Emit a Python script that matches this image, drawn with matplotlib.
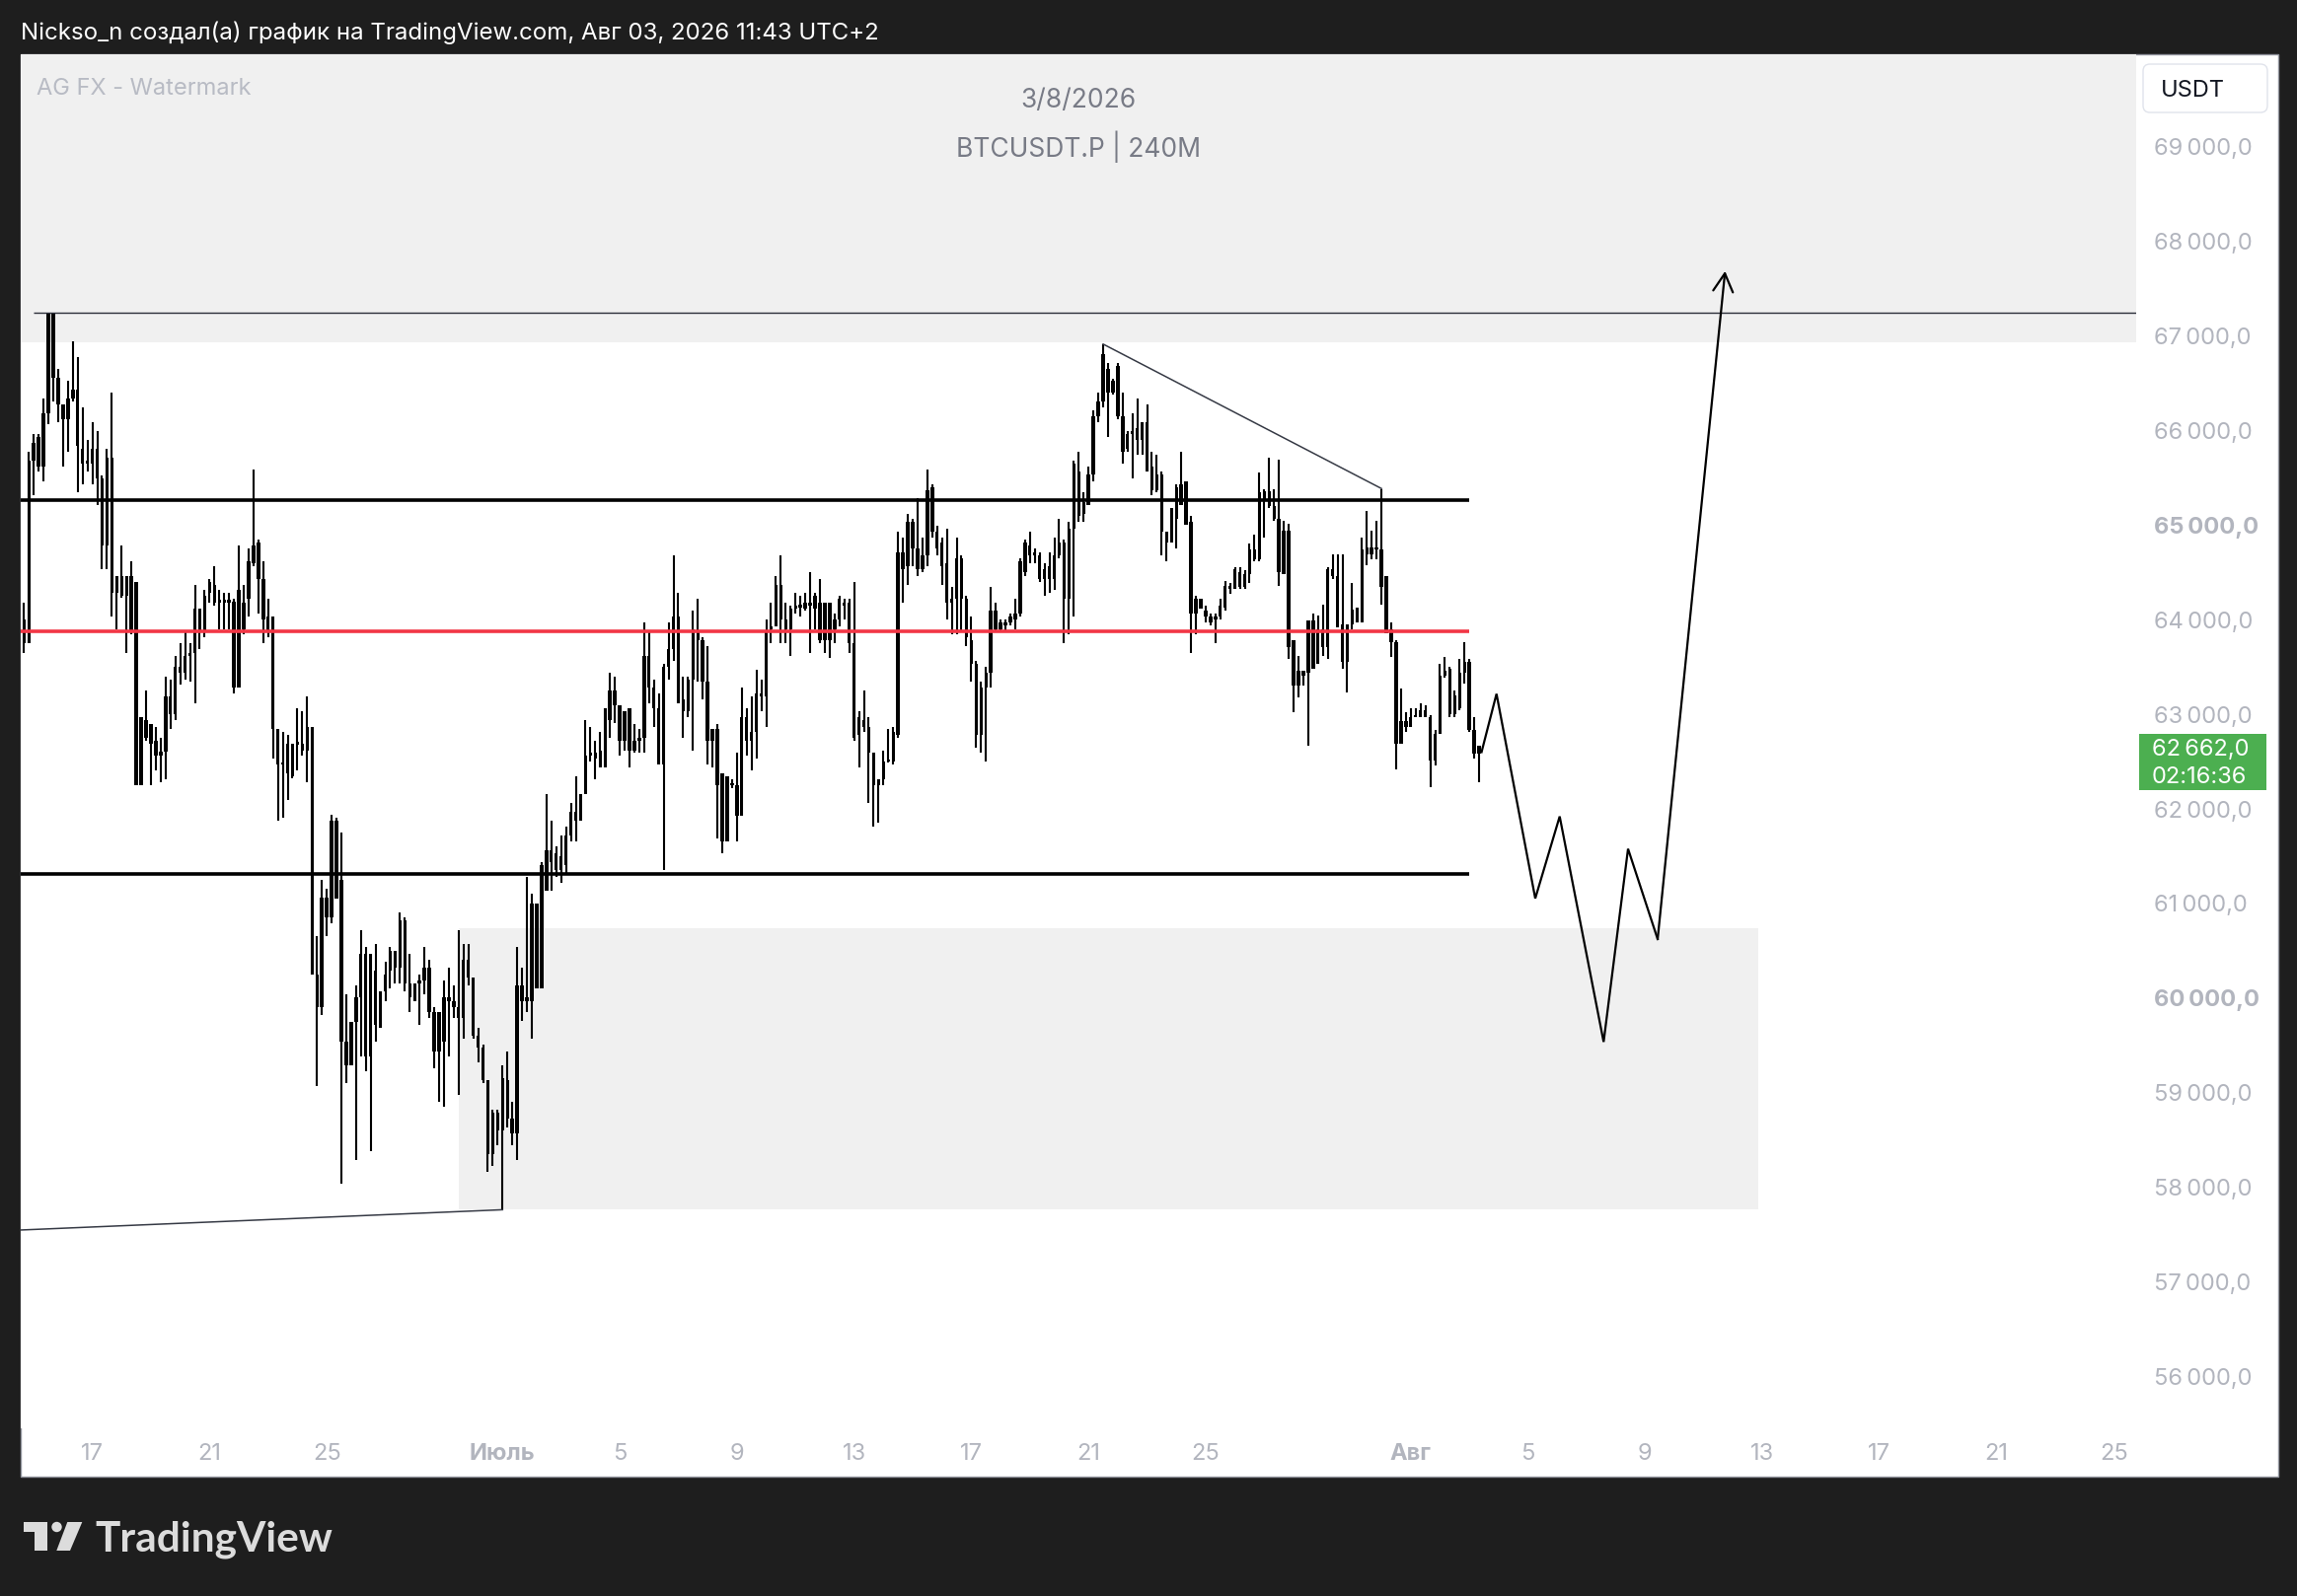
import numpy as np
import pandas as pd
import matplotlib
matplotlib.use('Agg')
import matplotlib.pyplot as plt
import matplotlib.dates as mdates
from matplotlib.patches import Rectangle, Polygon, Circle, FancyBboxPatch
from matplotlib.transforms import Affine2D, blended_transform_factory

plt.rcParams['font.family'] = ['Inter', 'DejaVu Sans']

# -----------------------------------------------------------------------------
# BTCUSDT.P 4h candles, 2026-06-14 14:00 .. 2026-08-03 10:00 (UTC+2)

first_bar = '2026-06-14 14:00'

o = [63940, 64000, 63750, 65680, 65620, 65620, 66180, 67240, 66550, 66270,
     66120, 66340, 66430, 65800, 65650, 65650, 65800, 65490, 64780, 65710,
     64280, 64460, 64250, 63870, 64400, 62250, 62940, 62690, 62720, 62560,
     62600, 63190, 63000, 63500, 63440, 63620, 63650, 64120, 63870, 64280,
     64370, 64180, 64190, 64180, 64190, 63280, 64180, 64220, 64590, 64810,
     64430, 64030, 64030, 62840, 62470, 62380, 62690, 62680, 62690, 62620,
     62870, 60250, 59910, 61060, 60850, 61880, 61250, 59540, 59290, 59750,
     60010, 60470, 59380, 60290, 59690, 60070, 60290, 60500, 60320, 60820,
     60160, 59970, 60160, 60190, 60320, 59850, 59440, 59540, 60010, 59970,
     59910, 59790, 60410, 60220, 59600, 59480, 59130, 58350, 58790, 58600,
     59130, 58730, 58570, 60130, 59970, 59970, 61000, 60100, 61130, 61560,
     61530, 61350, 61410, 61720, 61970, 61880, 62160, 62560, 62590, 62440,
     62440, 62940, 63250, 63090, 62720, 63060, 62620, 62720, 62750, 63620,
     63280, 63060, 62470, 63500, 63690, 64030, 63160, 63030, 63370, 63870,
     63780, 63340, 62720, 62840, 62380, 61660, 62250, 62250, 61930, 62970,
     62720, 62810, 63220, 63190, 63900, 63930, 64370, 64000, 63900, 64120,
     64130, 64120, 64180, 64120, 64180, 63780, 64180, 63900, 64000, 64180,
     64180, 63750, 62780, 62940, 62870, 62590, 62250, 62310, 62500, 62500,
     62780, 64710, 64560, 65030, 64750, 64530, 64680, 65400, 64930, 64810,
     64590, 64180, 64220, 64650, 64220, 63780, 63530, 62780, 63280, 63440,
     64090, 63900, 63970, 63970, 64000, 64060, 64500, 64780, 64680, 64680,
     64430, 64560, 64430, 64680, 64810, 64220, 64960, 65560, 65120, 65210,
     65530, 66150, 66300, 66650, 66400, 66680, 66150, 65800, 65960, 65900,
     66090, 66090, 65620, 65370, 65530, 64930, 64810, 65060, 65430, 65000,
     65030, 64060, 64220, 64090, 64030, 64000, 64030, 64130, 64360, 64320,
     64500, 64340, 64480, 64740, 64640, 65360, 65200, 65200, 65060, 64480,
     64940, 63780, 63300, 63460, 63440, 63990, 63530, 63900, 63710, 64530,
     64460, 63950, 63550, 63950, 64130, 63970, 64760, 64690, 64760, 64740,
     64460, 63900, 63760, 62690, 62930, 62860, 62970, 62970, 63040, 62970,
     62510, 62790, 63410, 63480, 63000, 63060, 63440, 63550, 62830, 62580]

h = [64500, 64180, 65770, 65960, 65960, 66340, 67240, 67240, 66650, 66270,
     66520, 66940, 66770, 66240, 65900, 66090, 65990, 65520, 65800, 66400,
     64460, 64780, 64460, 64620, 64400, 62970, 63250, 62900, 62870, 62750,
     63400, 63370, 63620, 63750, 63870, 63750, 64370, 64120, 64310, 64430,
     64560, 64310, 64280, 64280, 64220, 64780, 64370, 64750, 65590, 64840,
     64620, 64220, 64030, 62840, 62810, 62780, 62690, 63060, 63030, 63190,
     62870, 60660, 61250, 61160, 61940, 61910, 61750, 60040, 59750, 60130,
     60720, 60540, 60470, 60570, 60070, 60380, 60540, 60500, 60910, 60850,
     60470, 60160, 60250, 60540, 60410, 59910, 59850, 60190, 60320, 60130,
     60720, 60570, 60570, 60220, 59690, 59510, 59130, 58820, 58820, 59290,
     59440, 58910, 60540, 60320, 61280, 61100, 61000, 61440, 62160, 61880,
     61600, 61720, 61810, 62060, 62340, 62160, 62940, 62870, 62720, 62810,
     63060, 63440, 63400, 63090, 63030, 63060, 62900, 62840, 63970, 63870,
     63370, 63220, 63530, 63970, 64680, 64280, 63400, 63400, 64090, 64220,
     63810, 63720, 62840, 62900, 62380, 62340, 62310, 62590, 63280, 63060,
     63190, 63470, 63370, 64000, 64180, 64460, 64680, 64180, 64150, 64280,
     64250, 64280, 64500, 64280, 64430, 64180, 64180, 64060, 64250, 64220,
     64220, 64400, 63030, 63250, 62970, 62590, 62310, 62620, 62840, 62870,
     64930, 64870, 65120, 65060, 65280, 64870, 65590, 65430, 64990, 64870,
     64960, 64340, 64870, 64680, 64250, 64030, 63560, 63340, 63500, 64340,
     64180, 64000, 64000, 64060, 64220, 64650, 64840, 64930, 64750, 64710,
     64590, 64710, 64870, 65060, 64840, 65030, 65680, 65770, 65340, 65620,
     66210, 66400, 66910, 66710, 66540, 66710, 66400, 65990, 66180, 66340,
     66090, 66270, 65770, 65740, 65560, 64930, 65180, 65430, 65770, 65460,
     65090, 64250, 64220, 64150, 64060, 64060, 64220, 64410, 64390, 64550,
     64550, 64520, 64800, 64900, 65550, 65380, 65710, 65380, 65690, 65040,
     65010, 63780, 63620, 63460, 63990, 64060, 64040, 64160, 64550, 64690,
     64690, 64690, 63950, 64390, 64130, 64870, 65150, 64940, 65040, 65380,
     64460, 63970, 63780, 63270, 63020, 63060, 63060, 63110, 63090, 62990,
     62830, 63530, 63600, 63500, 63250, 63580, 63760, 63580, 62970, 62670]

l = [63690, 63650, 63750, 65310, 65560, 65460, 66060, 66300, 66090, 65620,
     65770, 66300, 65340, 65430, 65560, 65430, 65210, 64530, 64530, 64030,
     63900, 64230, 63650, 63840, 62250, 62250, 62720, 62250, 62410, 62280,
     62310, 62840, 62940, 63310, 63370, 63340, 63120, 63690, 63810, 64180,
     64150, 63900, 63900, 63900, 63220, 63280, 63840, 64030, 64560, 64060,
     63750, 63810, 62530, 61880, 61910, 62090, 62320, 62410, 62560, 62280,
     60250, 59070, 59820, 60660, 60790, 61050, 58040, 59100, 59290, 58290,
     59380, 59230, 58380, 59540, 59690, 59970, 60100, 60160, 60160, 60070,
     59850, 59970, 59720, 60040, 59790, 59260, 58910, 58850, 59380, 59790,
     58980, 59570, 60130, 59570, 59320, 59100, 58170, 58230, 58450, 57770,
     58630, 58450, 58290, 59760, 59850, 59570, 60100, 60100, 61130, 61130,
     61280, 61220, 61320, 61660, 61660, 61880, 62160, 62500, 62310, 62440,
     62440, 62750, 62910, 62560, 62620, 62440, 62590, 62590, 62590, 63120,
     62870, 62470, 61350, 63370, 63560, 63120, 62750, 62970, 62620, 63340,
     63160, 62470, 62440, 61690, 61530, 61660, 62220, 61660, 61930, 62560,
     62410, 62530, 63030, 62870, 63750, 63930, 63750, 63750, 63620, 64060,
     64030, 64090, 63650, 63900, 63750, 63650, 63590, 63750, 63930, 64000,
     63650, 62720, 62440, 62810, 62060, 61810, 61850, 62250, 62490, 62470,
     62750, 64180, 64370, 64560, 64460, 64500, 64560, 64870, 64680, 64370,
     64000, 63840, 63840, 63870, 63720, 63340, 62650, 62590, 62500, 63280,
     63870, 63870, 63870, 63940, 63900, 64030, 64460, 64590, 64590, 64400,
     64250, 64280, 64310, 64650, 63750, 63840, 64030, 65030, 65030, 65210,
     65460, 66090, 66240, 65930, 66380, 66120, 65650, 65770, 65490, 65740,
     65740, 65560, 65310, 65340, 64680, 64620, 64810, 64750, 65210, 65000,
     63650, 63840, 64120, 63970, 63940, 63750, 64000, 64090, 64270, 64320,
     64320, 64320, 64390, 64620, 64620, 64870, 65180, 65040, 64360, 64480,
     63580, 63020, 63180, 63300, 62670, 63480, 63530, 63620, 63580, 64430,
     63920, 63480, 63230, 63900, 63970, 63970, 64570, 64640, 64640, 64160,
     63850, 63600, 62420, 62690, 62810, 62860, 62970, 62970, 62970, 62230,
     62460, 62790, 63390, 62970, 62970, 63040, 63320, 62810, 62530, 62280]

c = [64180, 63750, 65680, 65870, 65930, 66180, 67240, 66550, 66270, 66120,
     66340, 66430, 65840, 65650, 65660, 65800, 65490, 64780, 65710, 64280,
     64460, 64250, 64460, 64460, 62250, 62970, 62750, 62900, 62560, 62600,
     63190, 63000, 63500, 63440, 63620, 63650, 64120, 63870, 64250, 64400,
     64180, 64190, 64180, 64190, 63280, 64310, 63900, 64620, 64780, 64430,
     64000, 63870, 62840, 62470, 62480, 62690, 62340, 62690, 62620, 62870,
     60250, 59910, 61060, 60850, 61880, 61050, 59540, 59290, 59750, 60010,
     60470, 59380, 60470, 59720, 60070, 60250, 60500, 60320, 60820, 60160,
     60010, 60160, 60190, 60320, 59850, 59440, 59850, 60010, 59970, 59910,
     59790, 60410, 60220, 59600, 59480, 59130, 58350, 58790, 58600, 59160,
     58730, 58570, 60130, 59970, 60010, 61000, 60100, 61410, 61560, 61440,
     61350, 61500, 61720, 61970, 61880, 62160, 62560, 62590, 62530, 62620,
     63060, 63250, 63090, 62720, 63030, 62620, 62720, 62750, 63620, 63280,
     63060, 62470, 63500, 63690, 64030, 63120, 63030, 63370, 63900, 63780,
     63340, 62720, 62840, 62250, 61660, 62340, 62270, 61930, 62970, 62720,
     62810, 63220, 63190, 63870, 63930, 64370, 64000, 63900, 64120, 64130,
     64150, 64180, 64150, 64250, 63780, 64180, 63780, 64000, 64220, 64150,
     63750, 62750, 62970, 62870, 62590, 62250, 62310, 62500, 62510, 62810,
     64710, 64530, 65030, 64750, 64530, 64680, 65370, 64930, 64750, 64560,
     64180, 64220, 64650, 64220, 63810, 63530, 62780, 63280, 63440, 64090,
     63900, 63970, 63940, 64030, 64060, 64620, 64810, 64680, 64690, 64430,
     64530, 64430, 64680, 64810, 64220, 64960, 65650, 65090, 65240, 65530,
     66150, 66300, 66800, 66400, 66520, 66150, 65770, 65960, 65990, 66020,
     65900, 65560, 65370, 65530, 64930, 64810, 65180, 65400, 65210, 65460,
     64060, 64220, 64120, 64030, 63970, 64030, 64150, 64360, 64320, 64530,
     64340, 64480, 64740, 64640, 65340, 65250, 65360, 65060, 64500, 64940,
     63710, 63300, 63460, 63410, 63990, 63480, 63900, 63710, 64530, 64460,
     63920, 63550, 63950, 64110, 63970, 64740, 64690, 64760, 64740, 64340,
     63850, 63760, 62690, 62930, 62860, 62970, 62990, 63040, 62970, 62510,
     62790, 63410, 63460, 63000, 63200, 63440, 63550, 62830, 62580, 62662]

# drawings
level_thin = 67240
level_top = 65265
level_mid = 63877
level_bot = 61315
level_thin_start = '2026-06-15 02:00'
levels_end = '2026-08-03 02:00'

zone_top = [66926, 70500]
zone_low_t = ['2026-06-29 14:00', '2026-08-12 23:00']
zone_low_p = [57765, 60735]

trend_t = ['2026-07-21 14:00', '2026-07-31 02:00']
trend_p = [66910, 65384]

base_t = ['2026-06-14 14:00', '2026-07-01 02:00']
base_p = [57550, 57765]

proj_t = ['2026-08-03 12:00', '2026-08-04 00:15', '2026-08-05 08:00',
          '2026-08-06 04:00', '2026-08-07 16:00', '2026-08-08 12:00',
          '2026-08-09 12:15', '2026-08-11 19:30']
proj_p = [62600, 63215, 61054, 61920, 59538, 61578, 60624, 67681]

tick_days = ['2026-06-17', '2026-06-21', '2026-06-25', '2026-07-01', '2026-07-05',
             '2026-07-09', '2026-07-13', '2026-07-17', '2026-07-21', '2026-07-25',
             '2026-08-01', '2026-08-05', '2026-08-09', '2026-08-13', '2026-08-17',
             '2026-08-21', '2026-08-25']
tick_labels = ['17', '21', '25', 'Июль', '5', '9', '13', '17', '21', '25',
               'Авг', '5', '9', '13', '17', '21', '25']
price_ticks = list(range(56000, 70000, 1000))

last_price = 62662
countdown = '02:16:36'

# -----------------------------------------------------------------------------

W, H = 2328, 1618
BG = '#1e1e1e'
GREY_TXT = '#b2b5be'


def dnum(s):
    return mdates.date2num(pd.to_datetime(s).to_pydatetime())


def dnums(lst):
    return np.array([dnum(s) for s in lst])


fig = plt.figure(figsize=(W / 100, H / 100), dpi=100, facecolor=BG)
px = Affine2D().scale(1 / W, -1 / H).translate(0, 1) + fig.transFigure

# white pane with border
fig.patches.append(Rectangle((20.8, 55), 2287.9, 1441.6, transform=px,
                             facecolor='white', edgecolor='#8f929b', lw=1.0,
                             zorder=-10))

ax = fig.add_axes([20.8 / W, 1 - 1447.6 / H, 2143.9 / W, 1392.6 / H])
ax.set_facecolor('white')
for s in ax.spines.values():
    s.set_visible(False)

times = pd.date_range(first_bar, periods=len(c), freq='4h')
x = mdates.date2num(times.to_pydatetime())
o_a, h_a, l_a, c_a = map(np.array, (o, h, l, c))

x_left = dnum('2026-06-14 15:10')
x_right = dnum('2026-08-25 20:00')

# zones
ax.add_patch(Rectangle((x_left - 5, zone_top[0]), x_right - x_left + 10,
                       zone_top[1] - zone_top[0], facecolor='#f0f0f0',
                       edgecolor='none', zorder=0))
zx = dnums(zone_low_t)
ax.add_patch(Rectangle((zx[0], zone_low_p[0]), zx[1] - zx[0],
                       zone_low_p[1] - zone_low_p[0], facecolor='#f0f0f0',
                       edgecolor='none', zorder=0))

# candles
ax.vlines(x, l_a, h_a, colors='black', lw=1.5, zorder=2)
ax.bar(x, np.maximum(np.abs(c_a - o_a), 25), bottom=np.minimum(o_a, c_a),
       width=0.115, color='black', linewidth=0, zorder=2)

# levels
end = dnum(levels_end)
ax.hlines(level_thin, dnum(level_thin_start), x_right + 5, colors='#2a2e39',
          lw=1.0, zorder=3)
ax.hlines([level_top, level_bot], x_left - 5, end, colors='black', lw=2.6,
          zorder=3)
ax.hlines(level_mid, x_left - 5, end, colors='#f23645', lw=2.6, zorder=3)

# trend lines
ax.plot(dnums(trend_t), trend_p, color='#363a45', lw=1.1, zorder=3)
ax.plot(dnums(base_t), base_p, color='#363a45', lw=1.1, zorder=3)

# projected path
pxs = dnums(proj_t)
ax.plot(pxs[:-1], proj_p[:-1], color='black', lw=1.6, zorder=3,
        solid_joinstyle='miter')
ax.annotate('', xy=(pxs[-1], proj_p[-1]), xytext=(pxs[-2], proj_p[-2]),
            arrowprops=dict(arrowstyle='->,head_length=0.55,head_width=0.3',
                            lw=1.6, color='black', mutation_scale=24,
                            shrinkA=0, shrinkB=0), zorder=3)

ax.set_xlim(x_left, x_right)
ax.set_ylim(55460, 69972)

# axes ticks
ax.set_xticks(dnums(tick_days) + 2 / 24)
ax.set_xticklabels(tick_labels)
ax.tick_params(axis='x', length=0, pad=11, labelsize=17, labelcolor=GREY_TXT)
for t in ax.get_xticklabels():
    if t.get_text() in ('Июль', 'Авг'):
        t.set_fontweight('bold')

ax.yaxis.tick_right()
ax.set_yticks(price_ticks)
ax.set_yticklabels([f'{p // 1000}\u2009000,0' for p in price_ticks])
ax.tick_params(axis='y', length=0, pad=13, labelsize=17, labelcolor=GREY_TXT)
for t, p in zip(ax.get_yticklabels(), price_ticks):
    t.set_verticalalignment('center_baseline')
    if p % 5000 == 0:
        t.set_fontweight('bold')

# last price label
lab = blended_transform_factory(px, ax.transData)
ax.add_patch(Rectangle((2167.6, last_price - 467), 129.2, 595, transform=lab,
                       facecolor='#4caf50', edgecolor='none', clip_on=False,
                       zorder=5))
ax.text(2181, last_price - 10, f'{last_price // 1000}\u2009{last_price % 1000:03d},0',
        transform=lab, color='white', fontsize=17, va='center_baseline',
        ha='left', zorder=6, clip_on=False)
ax.text(2181, last_price - 300, countdown, transform=lab, color='white',
        fontsize=17, va='center_baseline', ha='left', zorder=6, clip_on=False)

# currency box
fig.patches.append(FancyBboxPatch((2172, 65), 126, 49, transform=px,
                                  boxstyle='round,pad=0,rounding_size=7',
                                  facecolor='white', edgecolor='#e0e3eb',
                                  lw=1.0, zorder=4))
fig.text(2190 / W, 1 - 89 / H, 'USDT', color='#131722', fontsize=17,
         va='center_baseline', ha='left', zorder=6)

# header, watermark, title
fig.text(20.8 / W, 1 - 31 / H,
         'Nickso_n создал(а) график на TradingView.com, Авг 03, 2026 11:43 UTC+2',
         color='white', fontsize=17.3, va='center_baseline', ha='left')
fig.text(37 / W, 1 - 87 / H, 'AG FX - Watermark', color='#b8bbc4',
         fontsize=17, va='center_baseline', ha='left', zorder=6)
fig.text(1093 / W, 1 - 99 / H, '3/8/2026', color='#787b86', fontsize=19,
         va='center_baseline', ha='center', zorder=6)
fig.text(1093 / W, 1 - 146 / H, 'BTCUSDT.P | 240M', color='#787b86',
         fontsize=19, va='center_baseline', ha='center', zorder=6)

# TradingView logo
LOGO = '#dcdcdc'
fig.patches.append(Polygon([(24, 1543), (48, 1543), (48, 1572), (35, 1572),
                            (35, 1553), (24, 1553)], closed=True,
                           transform=px, facecolor=LOGO, edgecolor='none'))
fig.patches.append(Circle((57.5, 1548), 5.2, transform=px, facecolor=LOGO,
                          edgecolor='none'))
fig.patches.append(Polygon([(68.3, 1543), (83.3, 1543), (71, 1572),
                            (57.3, 1572)], closed=True, transform=px,
                           facecolor=LOGO, edgecolor='none'))
fig.text(96 / W, 1 - 1572 / H, 'TradingView', color=LOGO, fontsize=30.5,
         fontweight='bold', family=['Lato', 'DejaVu Sans'], va='baseline',
         ha='left')

fig.savefig('out.png', dpi=100, facecolor=BG)
